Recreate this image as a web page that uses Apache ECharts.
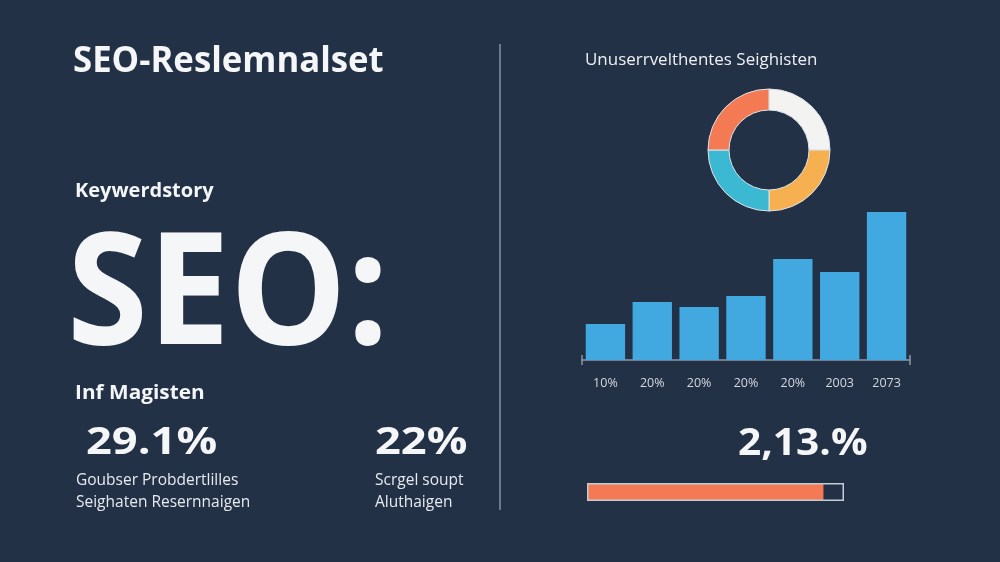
<!DOCTYPE html>
<html>
<head>
<meta charset="utf-8">
<script src="https://cdn.jsdelivr.net/npm/echarts@6/dist/echarts.min.js"></script>
<style>
html,body{margin:0;padding:0;background:#233146;}
#c{width:1000px;height:562px;}
</style>
</head>
<body>
<div id="c"></div>
<script>
// ---- data ----
var pageTitle = 'SEO-Reslemnalset';
var keywordLabel = 'Keywerdstory';
var heroText = 'SEO:';
var sectionLabel = 'Inf Magisten';
var kpiValues = ['29.1%', '22%', '2,13.%'];
var kpiCaptions = [['Goubser Probdertlilles', 'Seighaten Resernnaigen'], ['Scrgel soupt', 'Aluthaigen']];
var donutTitle = 'Unuserrvelthentes Seighisten';
var donutNames = ['A', 'B', 'C', 'D'];
var donutValues = [25, 25, 25, 25];
var barCategories = ['10%', '20%', '20%', '20%', '20%', '2003', '2073'];
var barValues = [36, 58, 53, 64, 101, 88, 148];
var progressValue = [92];
var progressMax = [100];

// ---- styles ----
var BG = '#233146';
var WHITE = '#f4f6f8';
var FONT = '"Open Sans", "Noto Sans", sans-serif';
var donutColors = ['#f3f3f1', '#f6b04f', '#3cb9d2', '#f37a52'];

var chart = echarts.init(document.getElementById('c'), null, {renderer: 'canvas'});

function txt(text, x, y, size, weight, color, sx) {
  return {
    type: 'text', x: x, y: y, silent: true,
    scaleX: sx || 1, originX: 0, originY: 0,
    style: {text: text, x: 0, y: 0, fill: color || WHITE, font: (weight || 'normal') + ' ' + size + 'px ' + FONT,
      textAlign: 'left', textVerticalAlign: 'middle'}
  };
}

var CAP = '#e6eaef';
var graphics = [
  txt(pageTitle, 73, 62, 36, 'bold', WHITE, 0.965),
  txt(keywordLabel, 75, 191, 20, 'bold', WHITE),
  txt(heroText, 67, 299, 157, 'bold', WHITE, 0.935),
  txt(sectionLabel, 75, 393, 20, 'bold', WHITE, 1.04),
  txt(kpiValues[0], 86, 443, 38, 'bold', WHITE, 1.19),
  txt(kpiCaptions[0][0], 76, 481, 15.5, 'normal', CAP),
  txt(kpiCaptions[0][1], 76, 503, 15.5, 'normal', CAP),
  txt(kpiValues[1], 375, 443, 38, 'bold', WHITE, 1.19),
  txt(kpiCaptions[1][0], 375, 481, 15.5, 'normal', CAP),
  txt(kpiCaptions[1][1], 375, 503, 15.5, 'normal', CAP),
  txt(donutTitle, 585, 60, 16, 'normal', '#eef1f4', 1.06),
  txt(kpiValues[2], 738, 444, 38, 'bold', WHITE, 1.07),
  {type: 'line', silent: true, shape: {x1: 500, y1: 44, x2: 500, y2: 510},
   style: {stroke: '#8593a8', lineWidth: 1.5}}
];

var option = {
  backgroundColor: BG,
  animation: false,
  graphic: graphics,
  grid: [
    {left: 582, width: 328, top: 200, height: 160},
    {left: 587, width: 257, top: 483, height: 18}
  ],
  xAxis: [
    {type: 'category', gridIndex: 0, data: barCategories, offset: 5,
     axisLine: {show: true, lineStyle: {color: '#8d97a8', width: 1.5},
       symbol: ['rect', 'rect'], symbolSize: [10, 1.5]},
     axisTick: {show: false},
     axisLabel: {color: '#d4d9e0', fontSize: 12.5, fontFamily: FONT, margin: 12}},
    {type: 'value', gridIndex: 1, min: 0, max: progressMax[0], show: false}
  ],
  yAxis: [
    {type: 'value', gridIndex: 0, min: 0, max: 160, show: false},
    {type: 'category', gridIndex: 1, data: [''], show: false}
  ],
  series: [
    {type: 'pie', center: [769, 150], radius: [40, 61], startAngle: 90, clockwise: true,
     label: {show: false}, labelLine: {show: false}, silent: true,
     itemStyle: {borderColor: '#dde3ea', borderWidth: 1},
     data: donutValues.map(function (v, i) { return {name: donutNames[i], value: v, itemStyle: {color: donutColors[i]}}; })},
    {type: 'bar', xAxisIndex: 0, yAxisIndex: 0, data: barValues, barCategoryGap: '16%',
     itemStyle: {color: '#41a9df'}, silent: true},
    {type: 'bar', xAxisIndex: 1, yAxisIndex: 1, data: progressValue, barWidth: 17,
     itemStyle: {color: '#f47a55'}, silent: true, z: 2},
    {type: 'bar', xAxisIndex: 1, yAxisIndex: 1, data: progressMax, barWidth: 18, barGap: '-100%',
     itemStyle: {color: 'rgba(0,0,0,0)', borderColor: '#c4ccd6', borderWidth: 1.5}, silent: true, z: 3}
  ]
};
chart.setOption(option);
</script>
</body>
</html>
